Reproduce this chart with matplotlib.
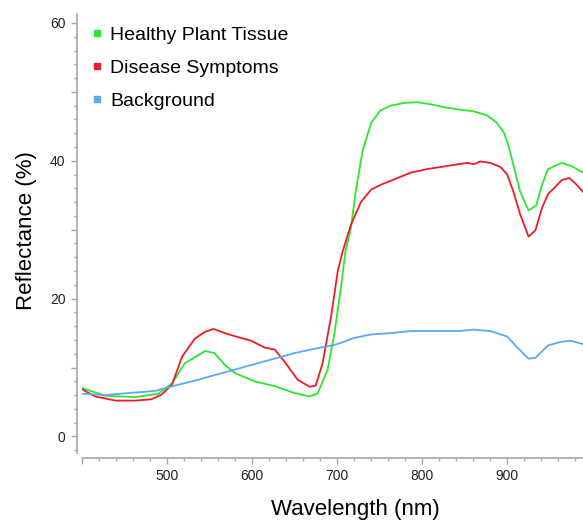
import numpy as np
import matplotlib.pyplot as plt
from matplotlib.lines import Line2D
from matplotlib.ticker import MultipleLocator, FuncFormatter

plt.rcParams['font.family'] = ['Liberation Sans', 'DejaVu Sans']

# Datos (longitud de onda en nm, reflectancia en %)
wl_sano = [401, 428, 463, 490, 506, 521, 545, 556, 568, 580, 603, 627, 650, 668, 677,
           689, 697, 705, 710, 716, 722, 730, 740, 751, 763, 779, 794, 810, 825, 845,
           860, 876, 888, 896, 901, 907, 915, 925, 934, 941, 948, 964, 976, 989, 1000]
ref_sano = [7.0, 5.9, 5.7, 6.2, 7.7, 10.6, 12.4, 12.1, 10.4, 9.2, 8.0, 7.3, 6.3, 5.8, 6.2,
            9.7, 15.0, 22.0, 27.0, 30.0, 35.6, 41.4, 45.5, 47.3, 48.0, 48.4, 48.5, 48.2, 47.8, 47.4,
            47.2, 46.6, 45.5, 44.1, 42.4, 39.5, 35.6, 32.8, 33.5, 36.6, 38.8, 39.7, 39.2, 38.3, 37.5]

wl_enfermo = [401, 416, 440, 463, 482, 494, 506, 518, 533, 545, 555, 568, 584, 599, 615, 627,
              638, 654, 668, 675, 683, 693, 701, 707, 716, 728, 740, 751, 767, 787, 806,
              822, 837, 853, 861, 868, 880, 892, 900, 907, 915, 925, 933, 941, 948, 954,
              964, 973, 981, 989, 1000]
ref_enfermo = [6.8, 5.8, 5.2, 5.2, 5.4, 6.1, 7.5, 11.6, 14.2, 15.2, 15.6, 15.0, 14.4, 13.9, 12.9, 12.6,
               10.9, 8.2, 7.2, 7.4, 10.6, 17.4, 24.1, 27.0, 30.6, 34.0, 35.8, 36.5, 37.3, 38.3, 38.8,
               39.1, 39.4, 39.7, 39.5, 39.9, 39.7, 39.1, 38.0, 35.6, 32.3, 29.0, 29.9, 33.2, 35.2, 35.9,
               37.2, 37.5, 36.6, 35.5, 34.5]

wl_fondo = [401, 428, 455, 486, 510, 533, 556, 580, 603, 627, 650, 673, 697, 705, 720,
            740, 763, 787, 818, 845, 860, 880, 900, 911, 925, 933, 948, 962, 974, 989, 1000]
ref_fondo = [6.2, 6.0, 6.3, 6.6, 7.4, 8.1, 8.9, 9.7, 10.5, 11.3, 12.1, 12.7, 13.3, 13.6, 14.3,
             14.8, 15.0, 15.3, 15.3, 15.3, 15.5, 15.3, 14.5, 13.0, 11.3, 11.4, 13.2, 13.7, 13.9, 13.4, 13.0]

verde = '#2ee62e'
rojo = '#ee1c24'
azul = '#5ea8ec'
gris = '#a6a6a6'

fig = plt.figure(figsize=(5.83, 5.2), dpi=100)
ax = fig.add_axes([81.7 / 583, 1 - 453 / 520, (583 - 81.7) / 583, (453 - 14) / 520])

ax.plot(wl_sano, ref_sano, color=verde, linewidth=1.3)
ax.plot(wl_enfermo, ref_enfermo, color=rojo, linewidth=1.3)
ax.plot(wl_fondo, ref_fondo, color=azul, linewidth=1.3)

ax.set_xlim(400, 989)
ax.set_ylim(-2.4, 61.3)

# Ejes estilo original
for lado in ['top', 'right']:
    ax.spines[lado].set_visible(False)
ax.spines['left'].set_position(('outward', 3.6))
ax.spines['bottom'].set_position(('outward', 3.6))
for lado in ['left', 'bottom']:
    ax.spines[lado].set_color(gris)
    ax.spines[lado].set_linewidth(1.2)

ax.xaxis.set_major_locator(MultipleLocator(100))
ax.xaxis.set_minor_locator(MultipleLocator(20))
ax.yaxis.set_major_locator(MultipleLocator(10))
ax.yaxis.set_minor_locator(MultipleLocator(2))
ax.yaxis.set_major_formatter(FuncFormatter(lambda v, p: f'{v:.0f}' if v % 20 == 0 else ''))
ax.xaxis.set_major_formatter(FuncFormatter(lambda v, p: '' if v <= 400 else f'{v:.0f}'))
ax.tick_params(which='major', length=4, width=1, color=gris, labelsize=10, pad=4, labelcolor='#222222')
ax.tick_params(which='minor', length=2.2, width=1, color=gris)

ax.set_xlabel('Wavelength (nm)', fontsize=16, va='center')
ax.set_ylabel('Reflectance (%)', fontsize=16, va='center')
ax.xaxis.set_label_coords(0.545, -0.128)
ax.yaxis.set_label_coords(-0.11, 0.506)

# Leyenda con cuadrados
manijas = [Line2D([], [], marker='s', linestyle='none', color=c, markersize=5)
           for c in [verde, rojo, azul]]
ax.legend(manijas, ['Healthy Plant Tissue', 'Disease Symptoms', 'Background'],
          loc='upper left', bbox_to_anchor=(92 / 583, 1 - 26 / 520), bbox_transform=fig.transFigure,
          frameon=False, fontsize=14, handlelength=0.5, handletextpad=0.45,
          labelspacing=0.8, borderpad=0, borderaxespad=0)

plt.savefig('out.png', dpi=100)
